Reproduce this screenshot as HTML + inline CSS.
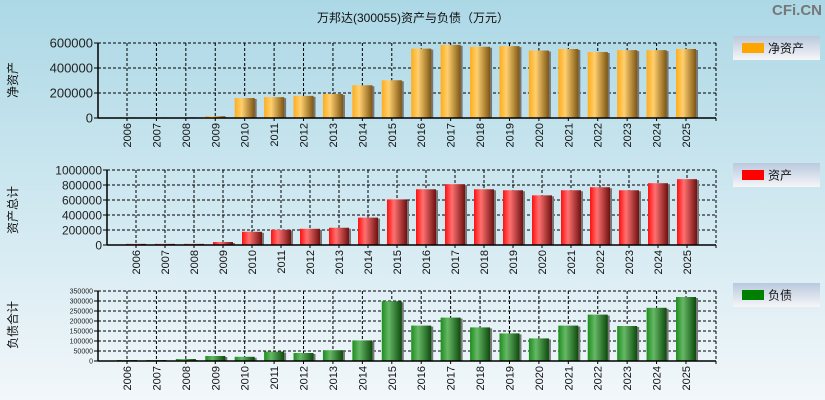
<!DOCTYPE html>
<html><head><meta charset="utf-8"><style>
html,body{margin:0;padding:0;width:825px;height:400px;overflow:hidden}
svg{display:block;font-family:"Liberation Sans","Noto Sans CJK SC",sans-serif}
</style></head><body>
<svg id="c" width="825" height="400" xmlns="http://www.w3.org/2000/svg">
<defs>
<linearGradient id="bg" x1="0" y1="0" x2="0" y2="1"><stop offset="0" stop-color="#acd8e6"/><stop offset="1" stop-color="#f2f7fa"/></linearGradient>
<linearGradient id="lg" x1="0" y1="0" x2="0" y2="1"><stop offset="0" stop-color="#b9c9de"/><stop offset="1" stop-color="#f6f6f8"/></linearGradient>
<linearGradient id="gO" x1="0" y1="0" x2="1" y2="0"><stop offset="0" stop-color="#ffad1a"/><stop offset="0.35" stop-color="#ffcf70"/><stop offset="1" stop-color="#7d5612"/></linearGradient>
<linearGradient id="gR" x1="0" y1="0" x2="1" y2="0"><stop offset="0" stop-color="#ff1010"/><stop offset="0.35" stop-color="#ff7070"/><stop offset="1" stop-color="#6e1010"/></linearGradient>
<linearGradient id="gG" x1="0" y1="0" x2="1" y2="0"><stop offset="0" stop-color="#1d8d1d"/><stop offset="0.35" stop-color="#66b866"/><stop offset="1" stop-color="#0c4a0c"/></linearGradient>
</defs>
<rect width="825" height="400" fill="url(#bg)"/>
<text x="413" y="22" font-size="12" text-anchor="middle" fill="#111">万邦达(300055)资产与负债（万元）</text>
<text x="822" y="15" font-size="15" font-weight="bold" text-anchor="end" fill="#777">CFi.CN</text>
<g id="g"></g>
</svg>
<script>
const years=["2006","2007","2008","2009","2010","2011","2012","2013","2014","2015","2016","2017","2018","2019","2020","2021","2022","2023","2024","2025"];
const netAssets=[5000,5000,5000,15000,160000,167000,177000,192000,262000,302000,555000,585000,570000,575000,540000,552000,528000,543000,543000,552000];
const totalAssets=[15000,15000,15000,40000,176000,203000,216000,230000,365000,608000,743000,811000,743000,730000,662000,730000,770000,730000,824000,878000];
const liabilities=[5000,5000,10000,25000,21000,47000,40000,54000,103000,299000,177000,217000,168000,138000,113000,177000,232000,175000,266000,320000];
const ticksTop=[0,200000,400000,600000];
const ticksMid=[0,200000,400000,600000,800000,1000000];
const ticksBot=[0,50000,100000,150000,200000,250000,300000,350000];
const NS="http://www.w3.org/2000/svg";
const G=document.getElementById('g');
function mk(t,a,p){const e=document.createElementNS(NS,t);for(const k in a)e.setAttribute(k,a[k]);(p||G).appendChild(e);return e;}
function panel(cfg){
  const {ax,c0,c1,right,y0,yTop,max,ticks,vals,grad,fs,ylab,ylabY,leg,legY,legColor,name}=cfg;
  const pg=mk('g',{});
  
  
  const sy=v=>y0-(v/max)*(y0-yTop);
  const step=(c1-c0)/(years.length-1);
  const sx=i=>c0+i*step;
  ticks.forEach(t=>{
    const y=sy(t);
    if(t>0){const l=mk('line',{x1:ax,x2:right,y1:y,y2:y,stroke:'#000','stroke-dasharray':'3,2','stroke-width':1},pg);
    
    }
    const tk=mk('line',{x1:ax-4,x2:ax,y1:y,y2:y,stroke:'#000'},pg);
    
    
    const tx=mk('text',{x:ax-5,y:y+fs*0.36,'font-size':fs,'text-anchor':'end',fill:'#222'},pg);
    tx.textContent=t;
    
    
  });
  years.forEach((yr,i)=>{
    const x=sx(i);
    const l=mk('line',{x1:x,x2:x,y1:yTop,y2:y0+4,stroke:'#000','stroke-dasharray':'3,2'},pg);
    
    
  });
  const rl=mk('line',{x1:right,x2:right,y1:yTop,y2:y0+4,stroke:'#000','stroke-dasharray':'3,2'},pg);
  
  
  years.forEach((yr,i)=>{
    const x=sx(i),y=sy(vals[i]),h=y0-y;
    const sh=mk('rect',{x:x-10+2,y:y+1,width:20,height:h-1,fill:'#777'},pg);
    
    
    const b=mk('rect',{x:x-10,y:y,width:20,height:h,fill:'url(#'+grad+')'},pg);
    
    
    const t=mk('text',{x:0,y:0,'font-size':11,'text-anchor':'end',fill:'#111',transform:'translate('+(x+4)+','+(y0+5)+') rotate(-90)'},pg);
    t.textContent=yr;
    
    
  });
  const a1=mk('line',{x1:ax,x2:ax,y1:yTop,y2:y0,stroke:'#000','stroke-width':1.5},pg);
  
  
  const a2=mk('line',{x1:ax,x2:right,y1:y0,y2:y0,stroke:'#000','stroke-width':1.5},pg);
  
  
  const yt=mk('text',{x:0,y:0,'font-size':12,'text-anchor':'middle',fill:'#111',transform:'translate(17,'+ylabY+') rotate(-90)'},pg);
  yt.textContent=ylab;
  
  
  const lg=mk('g',{},pg);
  
  
  mk('rect',{x:733,y:legY,width:87,height:24,fill:'url(#lg)'},lg);
  mk('rect',{x:742,y:legY+7,width:22,height:10,fill:legColor},lg);
  const lt=mk('text',{x:768,y:legY+16.5,'font-size':12,fill:'#111'},lg);
  lt.textContent=leg;
  
  
}
panel({name:'net-assets',ax:98,c0:127,c1:686,right:716,y0:118,yTop:43,max:600000,ticks:ticksTop,vals:netAssets,grad:'gO',fs:13,ylab:'净资产',ylabY:80,leg:'净资产',legY:36,legColor:'#ffa500'});
panel({name:'total-assets',ax:107,c0:136,c1:687,right:716,y0:245,yTop:170,max:1000000,ticks:ticksMid,vals:totalAssets,grad:'gR',fs:12,ylab:'资产总计',ylabY:210,leg:'资产',legY:163,legColor:'#ff0000'});
panel({name:'liabilities',ax:98,c0:127,c1:686,right:716,y0:361,yTop:291,max:350000,ticks:ticksBot,vals:liabilities,grad:'gG',fs:7,ylab:'负债合计',ylabY:325,leg:'负债',legY:283,legColor:'#008000'});
</script>
</body></html>
